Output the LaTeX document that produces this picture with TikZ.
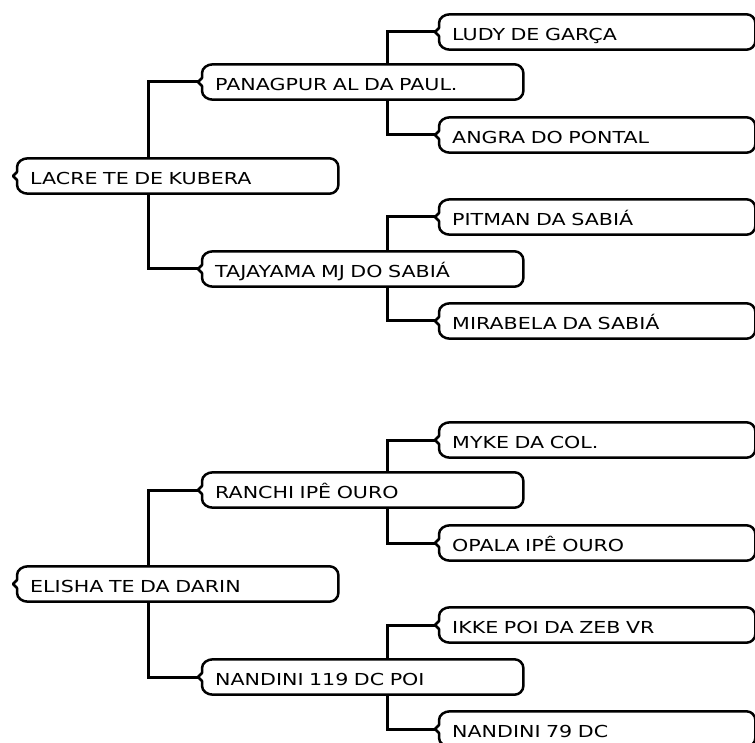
\documentclass[tikz,border=0pt]{standalone}
\usepackage{fontspec}
\newfontfamily\boxfont{DejaVu Sans}[FakeStretch=1.25]
\usepackage{tikz}
\usetikzlibrary{calc}

\tikzset{
  ten/.style={anchor=west, inner xsep=17pt, inner ysep=0pt, minimum height=35pt,
    text height=16.6pt, text depth=0pt, align=left,
    font=\boxfont\fontsize{16.5}{18}\selectfont},
  tengoc/.style={ten, text width=291pt},
  tenla/.style={ten, text width=286pt},
  vien/.style={line width=2.5pt, line join=round},
  noi/.style={line width=3pt}
}
\newcommand{\vienhop}[1]{%
  \draw[vien] ([xshift=15pt]#1.north west) -- ([xshift=-9pt]#1.north east)
    to[out=0,in=90] ([yshift=-9pt]#1.north east) -- ([yshift=9pt]#1.south east)
    to[out=-90,in=0] ([xshift=-9pt]#1.south east) -- ([xshift=15pt]#1.south west)
    to[out=180,in=-90] ([xshift=4pt,yshift=9pt]#1.south west)
    -- ([xshift=4pt,yshift=-4pt]#1.west) -- (#1.west) -- ([xshift=4pt,yshift=4pt]#1.west)
    -- ([xshift=4pt,yshift=-9pt]#1.north west)
    to[out=90,in=180] ([xshift=15pt]#1.north west) -- cycle;}

\begin{document}
\begin{tikzpicture}[x=1pt,y=-1pt]
        \useasboundingbox (0,0) rectangle (755,743);
        %Cây 1
        \node[tengoc] (lacre) at (13,176) {LACRE TE DE KUBERA};
        \node[tengoc] (panagpur) at (198,82) {PANAGPUR AL DA PAUL.};
        \node[tengoc] (tajayama) at (198,269) {TAJAYAMA MJ DO SABIÁ};
        \node[tenla] (ludy) at (435,32) {LUDY DE GARÇA};
        \node[tenla] (angra) at (435,135) {ANGRA DO PONTAL};
        \node[tenla] (pitman) at (435,217) {PITMAN DA SABIÁ};
        \node[tenla] (mirabela) at (435,321) {MIRABELA DA SABIÁ};
        %Cây 2
        \node[tengoc] (elisha) at (13,584) {ELISHA TE DA DARIN};
        \node[tengoc] (ranchi) at (198,490) {RANCHI IPÊ OURO};
        \node[tengoc] (nandinia) at (198,677) {NANDINI 119 DC POI};
        \node[tenla] (myke) at (435,440) {MYKE DA COL.};
        \node[tenla] (opala) at (435,543) {OPALA IPÊ OURO};
        \node[tenla] (ikke) at (435,625) {IKKE POI DA ZEB VR};
        \node[tenla] (nandinib) at (435,729) {NANDINI 79 DC};
        %Viền
        \foreach \n in {lacre,panagpur,tajayama,ludy,angra,pitman,mirabela,
                        elisha,ranchi,nandinia,myke,opala,ikke,nandinib}
          \vienhop{\n};
        %Nối
        \draw[noi] ([xshift=135pt]lacre.north west) |- (panagpur.west);
        \draw[noi] ([xshift=135pt]lacre.south west) |- (tajayama.west);
        \draw[noi] ([xshift=189pt]panagpur.north west) |- (ludy.west);
        \draw[noi] ([xshift=189pt]panagpur.south west) |- (angra.west);
        \draw[noi] ([xshift=189pt]tajayama.north west) |- (pitman.west);
        \draw[noi] ([xshift=189pt]tajayama.south west) |- (mirabela.west);
        \draw[noi] ([xshift=135pt]elisha.north west) |- (ranchi.west);
        \draw[noi] ([xshift=135pt]elisha.south west) |- (nandinia.west);
        \draw[noi] ([xshift=189pt]ranchi.north west) |- (myke.west);
        \draw[noi] ([xshift=189pt]ranchi.south west) |- (opala.west);
        \draw[noi] ([xshift=189pt]nandinia.north west) |- (ikke.west);
        \draw[noi] ([xshift=189pt]nandinia.south west) |- (nandinib.west);
\end{tikzpicture}
\end{document}
